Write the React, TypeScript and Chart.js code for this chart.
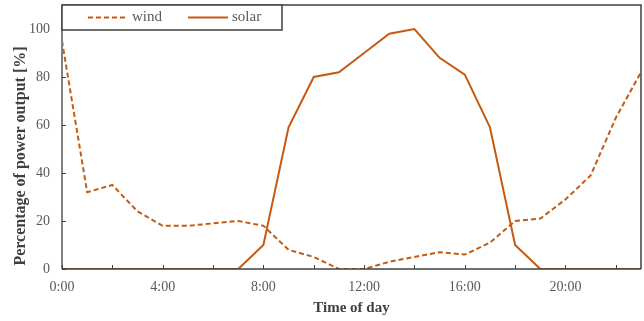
import React, { useEffect, useRef } from "react";
import { Chart, registerables } from "chart.js";

Chart.register(...registerables);

const hours = [0, 1, 2, 3, 4, 5, 6, 7, 8, 9, 10, 11, 12, 13, 14, 15, 16, 17, 18, 19, 20, 21, 22, 23];
const windValues = [95, 32, 35, 24, 18, 18, 19, 20, 18, 8, 5, 0, 0, 3, 5, 7, 6, 11, 20, 21, 29, 39, 63, 82];
const solarValues = [0, 0, 0, 0, 0, 0, 0, 0, 10, 59, 80, 82, 90, 98, 100, 88, 81, 59, 10, 0, 0, 0, 0, 0];
const xTickValues = [0, 4, 8, 12, 16, 20];
const xMinorTicks = [0, 2, 4, 6, 8, 10, 12, 14, 16, 18, 20, 22];
const yTickValues = [0, 20, 40, 60, 80, 100];
const seriesNames = ["wind", "solar"];
const yTitle = "Percentage of power output [%]";
const xTitle = "Time of day";

const LINE_COLOR = "rgb(197,90,17)";
const FONT = "'Liberation Serif', 'Times New Roman', serif";

const framePlugin = {
  id: "frame",
  afterDatasetsDraw(chart: any) {
    const { ctx, chartArea } = chart;
    const { left, right, top, bottom } = chartArea;
    const xs = chart.scales.x;
    const ys = chart.scales.y;
    ctx.save();
    ctx.strokeStyle = "#404040";
    ctx.lineWidth = 1.5;
    ctx.beginPath();
    ctx.moveTo(left, top);
    ctx.lineTo(right, top);
    ctx.lineTo(right, bottom);
    ctx.stroke();
    ctx.beginPath();
    ctx.moveTo(left, bottom);
    ctx.lineTo(right, bottom);
    ctx.stroke();
    ctx.strokeStyle = "#808080";
    ctx.lineWidth = 2;
    ctx.beginPath();
    ctx.moveTo(left, top);
    ctx.lineTo(left, bottom);
    ctx.stroke();
    ctx.strokeStyle = "#404040";
    ctx.lineWidth = 1;
    ctx.beginPath();
    xMinorTicks.forEach((v) => {
      const px = Math.round(xs.getPixelForValue(v)) + 0.5;
      ctx.moveTo(px, bottom);
      ctx.lineTo(px, bottom - 4);
    });
    yTickValues.forEach((v) => {
      const py = Math.round(ys.getPixelForValue(v)) + 0.5;
      ctx.moveTo(left, py);
      ctx.lineTo(left + 4, py);
    });
    ctx.stroke();

    // y axis title (Excel-style, centered slightly below plot middle)
    ctx.save();
    ctx.translate(21, 156);
    ctx.rotate(-Math.PI / 2);
    ctx.font = `bold 16px ${FONT}`;
    ctx.fillStyle = "#404040";
    ctx.textAlign = "center";
    ctx.textBaseline = "middle";
    ctx.fillText(yTitle, 0, 0);
    ctx.restore();

    const bx = left, by = top, bw = 220, bh = 25;
    ctx.fillStyle = "#ffffff";
    ctx.fillRect(bx, by, bw, bh);
    ctx.strokeStyle = "#404040";
    ctx.lineWidth = 1.5;
    ctx.strokeRect(bx, by, bw, bh);
    const cy = by + bh / 2;
    const items = [
      { x: bx + 26, dash: [5, 3], label: seriesNames[0] },
      { x: bx + 126, dash: [], label: seriesNames[1] },
    ];
    ctx.font = `15px ${FONT}`;
    ctx.textBaseline = "middle";
    ctx.textAlign = "left";
    items.forEach((it) => {
      ctx.strokeStyle = LINE_COLOR;
      ctx.lineWidth = 2;
      ctx.setLineDash(it.dash);
      ctx.beginPath();
      ctx.moveTo(it.x, cy);
      ctx.lineTo(it.x + 40, cy);
      ctx.stroke();
      ctx.setLineDash([]);
      ctx.fillStyle = "#595959";
      ctx.fillText(it.label, it.x + 44, cy);
    });
    ctx.restore();
  },
};

export default function App() {
  const canvasRef = useRef<HTMLCanvasElement | null>(null);

  useEffect(() => {
    if (!canvasRef.current) return;
    const chart = new Chart(canvasRef.current, {
      type: "line",
      data: {
        datasets: [
          {
            label: seriesNames[0],
            data: hours.map((h, i) => ({ x: h, y: windValues[i] })),
            borderColor: LINE_COLOR,
            borderWidth: 2,
            borderDash: [5, 3],
            pointRadius: 0,
            fill: false,
            tension: 0,
          },
          {
            label: seriesNames[1],
            data: hours.map((h, i) => ({ x: h, y: solarValues[i] })),
            borderColor: LINE_COLOR,
            borderWidth: 2,
            pointRadius: 0,
            fill: false,
            tension: 0,
          },
        ],
      },
      options: {
        animation: false,
        responsive: false,
        maintainAspectRatio: false,
        layout: { padding: { left: 0, right: 3, top: 5, bottom: 0 } },
        plugins: {
          legend: { display: false },
          tooltip: { enabled: false },
        },
        scales: {
          x: {
            type: "linear",
            min: 0,
            max: 23,
            afterBuildTicks: (scale: any) => {
              scale.ticks = xTickValues.map((v) => ({ value: v }));
            },
            afterFit: (scale: any) => {
              scale.height = 52;
              scale.paddingLeft = 0;
              scale.paddingRight = 0;
            },
            grid: { display: false, drawTicks: false },
            border: { display: false },
            ticks: {
              padding: 10,
              maxRotation: 0,
              color: "#595959",
              font: { family: FONT, size: 14 },
              callback: (v: any) => `${v}:00`,
            },
            title: {
              display: true,
              text: xTitle,
              color: "#404040",
              font: { family: FONT, size: 15, weight: "bold" },
              padding: { top: 0, bottom: 4 },
            },
          },
          y: {
            min: 0,
            max: 110,
            afterBuildTicks: (scale: any) => {
              scale.ticks = yTickValues.map((v) => ({ value: v }));
            },
            afterFit: (scale: any) => {
              scale.width = 62;
              scale.paddingTop = 0;
              scale.paddingBottom = 0;
            },
            grid: { display: false, drawTicks: false },
            border: { display: false },
            ticks: {
              padding: 12,
              color: "#595959",
              font: { family: FONT, size: 14 },
            },
            title: { display: false },
          },
        },
      },
      plugins: [framePlugin],
    });
    return () => chart.destroy();
  }, []);

  return (
    <div style={{ position: "fixed", left: 0, top: 0, width: 644, height: 321, background: "#fff" }}>
      <canvas ref={canvasRef} width={644} height={321} style={{ width: 644, height: 321 }} />
    </div>
  );
}
